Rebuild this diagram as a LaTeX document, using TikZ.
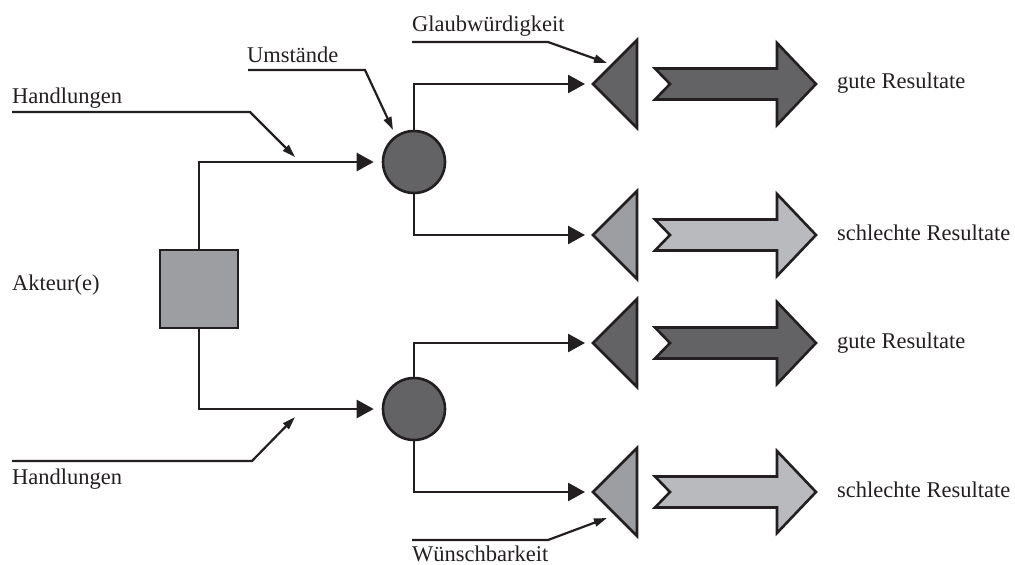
\documentclass[tikz,border=0pt]{standalone}
\usepackage{fontspec}
\setmainfont{Liberation Serif}
\usetikzlibrary{arrows.meta,calc}
\definecolor{ink}{HTML}{231F20}
\definecolor{darkfill}{HTML}{636365}
\definecolor{midfill}{HTML}{9D9EA1}
\definecolor{lightfill}{HTML}{B9BABD}
\tikzset{
  lbl/.style={font=\fontsize{22.5}{27}\selectfont, text=ink, inner sep=0pt, anchor=base west},
  conn/.style={draw=ink, line width=2.6pt, -{Triangle[length=17pt,width=18pt]}, shorten >=8pt},
  pointer/.style={draw=ink, line width=2.2pt, line join=miter, -{Triangle[length=13pt,width=8pt]}},
  outl/.style={draw=ink, line width=2.6pt, line join=miter},
}
\newcommand\resrow[4]{%
  \begin{scope}[shift={(0,#1)}]
    \coordinate (#4) at (593,0);
    \draw[outl, fill=#2] (593,0) -- (637,-44) -- (637,44) -- cycle;
    \draw[outl, fill=#3] (655,-15.5) -- (777,-15.5) -- (777,-41) -- (816,0) -- (777,41) -- (777,15.5) -- (655,15.5) -- (670,0) -- cycle;
  \end{scope}}
\begin{document}
\begin{tikzpicture}[x=1pt,y=-1pt]
\useasboundingbox (0,0) rectangle (1015,565);

% actor box and circles
\node[outl, fill=midfill, minimum size=78pt, inner sep=0pt] (box) at (199,289) {};
\node[outl, circle, fill=darkfill, minimum size=62pt, inner sep=0pt] (c1) at (414,162) {};
\node[outl, circle, fill=darkfill, minimum size=62pt, inner sep=0pt] (c2) at (414,409) {};

% result rows
\resrow{84}{darkfill}{darkfill}{t1}
\resrow{235}{midfill}{lightfill}{t2}
\resrow{343}{darkfill}{darkfill}{t3}
\resrow{492}{midfill}{lightfill}{t4}

% connectors
\draw[conn] (box.north) |- (c1.west);
\draw[conn] (box.south) |- (c2.west);
\draw[conn] (c1.north) |- (t1);
\draw[conn] (c1.south) |- (t2);
\draw[conn] (c2.north) |- (t3);
\draw[conn] (c2.south) |- (t4);

% texts
\node[lbl] (akt) at (12,290) {Akteur(e)};
\node[lbl] (r1) at (837,88) {gute Resultate};
\node[lbl] (r2) at (837,240) {schlechte Resultate};
\node[lbl] (r3) at (837,348) {gute Resultate};
\node[lbl] (r4) at (837,497) {schlechte Resultate};

\node[lbl] (hA) at (12,103) {Handlungen};
\node[lbl] (um) at (247,62) {Umstände};
\node[lbl] (gl) at (412,31) {Glaubwürdigkeit};
\node[lbl] (hB) at (12,484) {Handlungen};
\node[lbl] (wu) at (412,561) {Wünschbarkeit};

% pointer lines
\coordinate (hA1) at (12,112); \coordinate (hA2) at (250,112); \coordinate (hA3) at (295,157);
\draw[pointer] (hA1) -- (hA2) -- (hA3);
\coordinate (um1) at (248,70); \coordinate (um2) at (365,70); \coordinate (um3) at (393,130);
\draw[pointer] (um1) -- (um2) -- (um3);
\coordinate (gl1) at (412,42); \coordinate (gl2) at (548,42); \coordinate (gl3) at (607,63);
\draw[pointer] (gl1) -- (gl2) -- (gl3);
\coordinate (hB1) at (12,461); \coordinate (hB2) at (252,461); \coordinate (hB3) at (295,417);
\draw[pointer] (hB1) -- (hB2) -- (hB3);
\coordinate (wu1) at (412,540); \coordinate (wu2) at (548,540); \coordinate (wu3) at (607,518);
\draw[pointer] (wu1) -- (wu2) -- (wu3);
\end{tikzpicture}
\end{document}
